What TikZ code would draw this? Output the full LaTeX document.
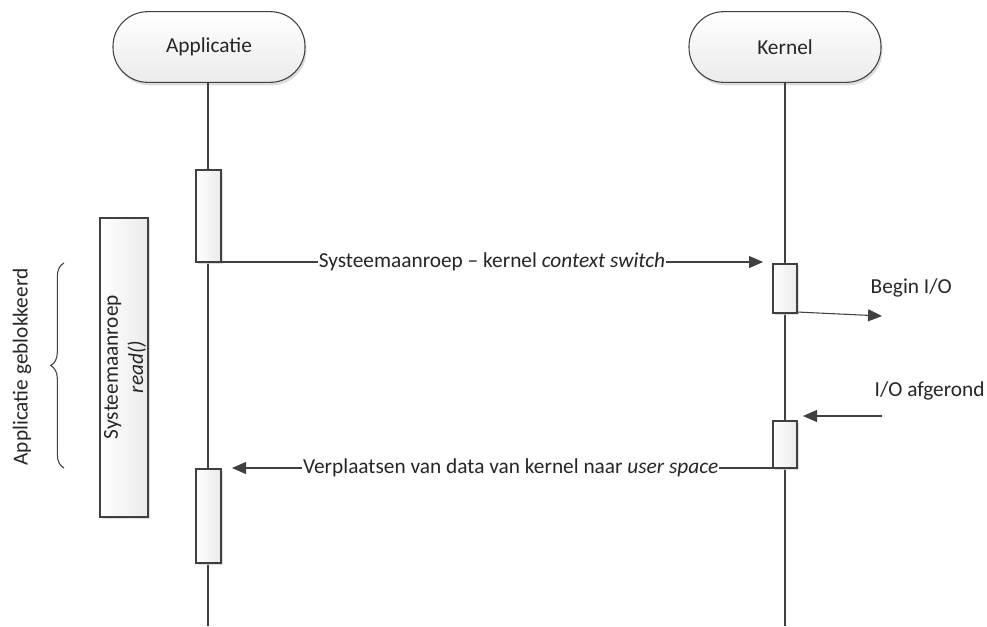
\documentclass[tikz,border=0pt]{standalone}
\usepackage{fontspec}
\setmainfont{Carlito}
\usetikzlibrary{arrows.meta,shadows,decorations.pathreplacing}
\definecolor{linegray}{HTML}{404040}
\definecolor{shadegray}{HTML}{D4D4D4}
\tikzset{
  lbl/.style={font=\fontsize{16}{19}\selectfont, text=black!85},
  head/.style={draw=linegray, line width=0.8pt, rounded corners=26pt,
    top color=white, bottom color=black!8,
    minimum width=144pt, minimum height=53pt, inner sep=0pt,
    drop shadow={shadow xshift=1.2pt, shadow yshift=-2.2pt, fill=shadegray, opacity=0.8}},
  actbox/.style={draw=linegray, line width=0.8pt, left color=white, right color=black!8,
    drop shadow={shadow xshift=1.8pt, shadow yshift=-1.8pt, fill=shadegray, opacity=0.8}},
  life/.style={draw=linegray, line width=0.8pt},
  msg/.style={draw=linegray, line width=0.8pt,
    -{Triangle[length=10.5pt,width=9pt]}},
  onlabel/.style={lbl, fill=white, inner sep=0.6pt}
}
\begin{document}
\begin{tikzpicture}[x=0.75pt,y=-0.75pt]
\useasboundingbox (0,0) rectangle (987,626);

% participants
\node[head, lbl] (app) at (209,47) {Applicatie};
\node[head, lbl] (ker) at (785,47) {Kernel};

% lifelines
\coordinate (append) at (208,626);
\coordinate (kerend) at (785,626);
\draw[life] (app.south -| 208,0) -- (append);
\draw[life] (ker.south) -- (kerend);

% activation bars
\path[actbox] (196,170) rectangle (221,262);
\node[inner sep=0pt, minimum width=18.75pt, minimum height=69pt] (a1) at (208.5,216) {};
\path[actbox] (196,469) rectangle (221,563);
\node[inner sep=0pt, minimum width=18.75pt, minimum height=70.5pt] (a2) at (208.5,516) {};
\path[actbox] (773,264) rectangle (797,313);
\node[inner sep=0pt, minimum width=18pt, minimum height=36.75pt] (k1) at (785,288.5) {};
\path[actbox] (773,421) rectangle (797,468);
\node[inner sep=0pt, minimum width=18pt, minimum height=35.25pt] (k2) at (785,444.5) {};

% system call block
\path[actbox] (100,218) rectangle (148,517);
\node[lbl, rotate=90, align=center] (sys) at (125,367)
  {Systeemaanroep\\\textit{read()}};

% blocked interval
\coordinate (brb) at (64,468);
\coordinate (brt) at (64,263);
\draw[linegray, line width=0.8pt, decorate,
  decoration={brace, amplitude=10pt}] (brb) -- (brt);
\node[lbl, rotate=90] (blk) at (22,367) {Applicatie geblokkeerd};

% messages
\coordinate (m1s) at (221,262);
\coordinate (m1e) at (763,262);
\draw[msg] (m1s) -- node[onlabel] {Systeemaanroep – kernel \textit{context switch}} (m1e);

\coordinate (bio) at (882,316);
\draw[msg] (797,312) -- (bio);
\node[lbl, anchor=west] (biol) at (866,288) {Begin I/O};

\coordinate (ioa) at (882,416);
\coordinate (ioe) at (803,416);
\draw[msg] (ioa) -- (ioe);
\node[lbl, anchor=west] (ioal) at (870,391) {I/O afgerond};

\coordinate (m2s) at (773,468);
\coordinate (m2e) at (232,468);
\draw[msg] (m2s) -- node[onlabel, pos=0.485] {Verplaatsen van data van kernel naar \textit{user space}} (m2e);
\end{tikzpicture}
\end{document}
